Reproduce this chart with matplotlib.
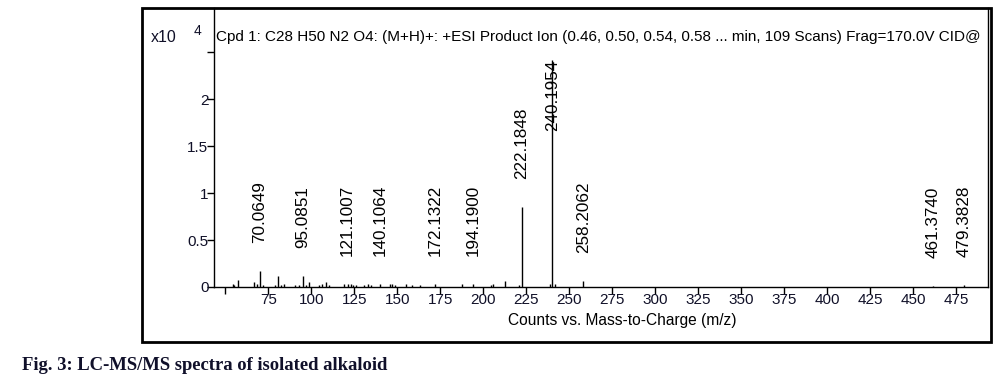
import numpy as np
import matplotlib
matplotlib.use("Agg")
import matplotlib.pyplot as plt
from matplotlib.patches import Rectangle

plt.rcParams['font.family'] = ['Liberation Sans', 'DejaVu Sans']

# spectrum (intensity in units of 10^4 counts)
mz = [54.5, 55.1, 57.6, 66.9, 68.6, 70.0649, 72.1, 79.1, 80.8, 82.6, 84.3,
      90.7, 93.0, 95.0851, 97.1, 98.5, 104.7, 106.4, 108.7, 110.5, 119.2,
      121.1007, 123.3, 124.2, 126.2, 130.8, 133.1, 134.7, 140.1064, 145.6,
      147.1, 148.8, 154.9, 158.7, 163.4, 172.1322, 187.8, 194.1900, 204.7,
      205.8, 212.8, 220.9, 222.1848, 239.0, 240.1954, 241.5, 258.2062,
      461.3740, 479.3828]
intensity = [0.03, 0.02, 0.07, 0.05, 0.03, 0.17, 0.02, 0.02, 0.12, 0.02, 0.03,
             0.02, 0.02, 0.12, 0.02, 0.05, 0.02, 0.03, 0.05, 0.02, 0.03,
             0.03, 0.03, 0.02, 0.02, 0.02, 0.03, 0.02, 0.03, 0.03,
             0.03, 0.02, 0.03, 0.02, 0.02, 0.03, 0.03, 0.03, 0.02,
             0.03, 0.06, 0.02, 0.85, 0.03, 2.42, 0.03, 0.06,
             0.01, 0.02]

# annotated peaks
label_mz = [70.0649, 95.0851, 121.1007, 140.1064, 172.1322, 194.1900,
            222.1848, 240.1954, 258.2062, 461.3740, 479.3828]
label_text = ["70.0649", "95.0851", "121.1007", "140.1064", "172.1322", "194.1900",
              "222.1848", "240.1954", "258.2062", "461.3740", "479.3828"]

xticks = [50, 75, 100, 125, 150, 175, 200, 225, 250, 275, 300, 325, 350, 375, 400, 425, 450, 475]
yticks = [0, 0.5, 1, 1.5, 2, 2.5]
ytick_labels = ["0", "0.5", "1", "1.5", "2", ""]

title = ("Cpd 1: C28 H50 N2 O4: (M+H)+: +ESI Product Ion (0.46, 0.50, 0.54, 0.58 ... min, "
         "109 Scans) Frag=170.0V CID@")

W, H = 1007, 387
fig = plt.figure(figsize=(W / 100, H / 100), dpi=100)
ax = fig.add_axes([214 / W, 1 - 287 / H, (988 - 214) / W, (287 - 8) / H])

ax.vlines(mz, 0, intensity, color="black", lw=1)

lookup = dict(zip(mz, intensity))
for m, t in zip(label_mz, label_text):
    y = min(lookup[m] + 0.3, 1.66)
    ax.text(m, y, t, rotation=90, ha="center", va="bottom", fontsize=12.3, color="black")

ax.set_xlim(43.4, 493.4)
ax.set_ylim(0, 2.97)
ax.set_xticks(xticks)
ax.set_xticklabels([str(v) if v != 50 else "" for v in xticks])
ax.set_yticks(yticks)
ax.set_yticklabels(ytick_labels)
ax.tick_params(axis="both", direction="out", length=5, width=1, labelsize=11, pad=-1,
               colors="black", labelcolor="#101028")
ax.spines["top"].set_visible(False)
for s in ["left", "bottom", "right"]:
    ax.spines[s].set_linewidth(1)

ax.text(0.003, 0.897, title, transform=ax.transAxes, ha="left", va="center", fontsize=11)

# y multiplier
fig.text(151 / W, 1 - 37 / H, "x10", ha="left", va="center", fontsize=11.5, color="#101028")
fig.text(194 / W, 1 - 31 / H, "4", ha="left", va="center", fontsize=10, color="#101028")

fig.text(622 / W, 1 - 321 / H, "Counts vs. Mass-to-Charge (m/z)", ha="center", va="center",
         fontsize=11.2)

# outer frame
fig.patches.append(Rectangle((142 / W, 1 - 342 / H), (991 - 142) / W, (342 - 8) / H,
                             transform=fig.transFigure, fill=False, lw=2, ec="black"))

fig.text(22 / W, 1 - 366 / H, "Fig. 3: LC-MS/MS spectra of isolated alkaloid", ha="left",
         va="center", fontsize=13.4, fontweight="bold", family="Liberation Serif",
         color="#10102a")

fig.savefig("out.png", dpi=100)
